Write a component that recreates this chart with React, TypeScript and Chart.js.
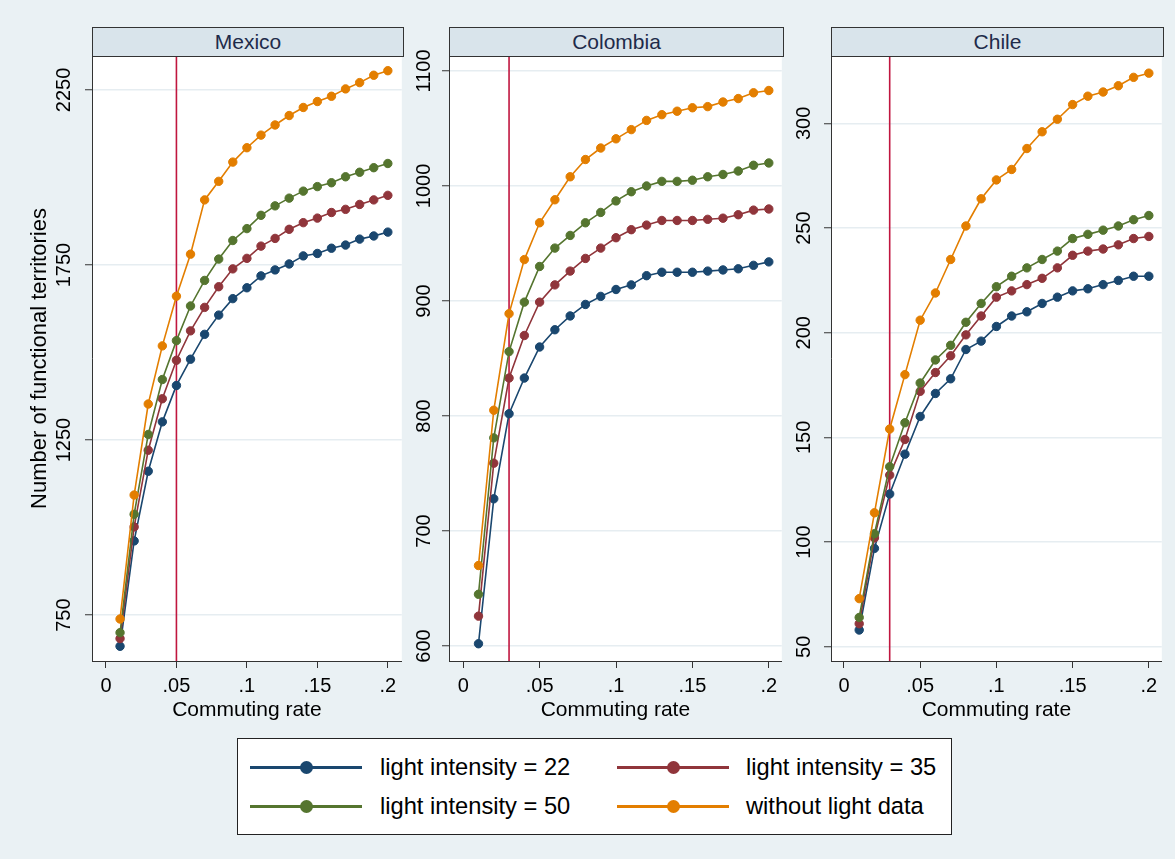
import React, { useEffect, useRef } from "react";
import { Chart, registerables } from "chart.js";

Chart.register(...registerables);

// ---------------- DATA ----------------
const commutingRates = [0.01, 0.02, 0.03, 0.04, 0.05, 0.06, 0.07, 0.08, 0.09, 0.1, 0.11, 0.12, 0.13, 0.14, 0.15, 0.16, 0.17, 0.18, 0.19, 0.2];

const seriesLabels = ["light intensity = 22", "light intensity = 35", "light intensity = 50", "without light data"];

const mexico22 = [661, 962, 1161, 1302, 1406, 1481, 1552, 1607, 1654, 1685, 1719, 1736, 1753, 1776, 1783, 1798, 1807, 1824, 1833, 1844];
const mexico35 = [683, 1002, 1221, 1368, 1478, 1562, 1629, 1688, 1739, 1769, 1804, 1826, 1852, 1871, 1884, 1900, 1909, 1923, 1936, 1949];
const mexico50 = [700, 1038, 1266, 1423, 1534, 1633, 1706, 1767, 1820, 1854, 1892, 1919, 1941, 1961, 1974, 1985, 2002, 2015, 2028, 2040];
const mexicoNoLight = [739, 1093, 1353, 1519, 1661, 1781, 1936, 1989, 2044, 2085, 2121, 2150, 2177, 2200, 2217, 2232, 2253, 2271, 2292, 2305];

const colombia22 = [602, 728, 802, 833, 860, 875, 887, 897, 904, 910, 914, 922, 925, 925, 925, 926, 927, 928, 931, 934];
const colombia35 = [626, 759, 833, 870, 899, 914, 926, 937, 946, 955, 962, 966, 970, 970, 970, 971, 972, 975, 979, 980];
const colombia50 = [645, 781, 856, 899, 930, 946, 957, 968, 977, 987, 995, 1000, 1004, 1004, 1005, 1008, 1010, 1013, 1018, 1020];
const colombiaNoLight = [670, 805, 889, 936, 968, 988, 1008, 1023, 1033, 1041, 1049, 1057, 1062, 1065, 1068, 1069, 1073, 1076, 1081, 1083];

const chile22 = [58, 97, 123, 142, 160, 171, 178, 192, 196, 203, 208, 210, 214, 217, 220, 221, 223, 225, 227, 227];
const chile35 = [61, 102, 132, 149, 172, 181, 189, 199, 208, 217, 220, 223, 226, 231, 237, 239, 240, 242, 245, 246];
const chile50 = [64, 104, 136, 157, 176, 187, 194, 205, 214, 222, 227, 231, 235, 239, 245, 247, 249, 251, 254, 256];
const chileNoLight = [73, 114, 154, 180, 206, 219, 235, 251, 264, 273, 278, 288, 296, 302, 309, 313, 315, 318, 322, 324];

const xTickValues = [0, 0.05, 0.1, 0.15, 0.2];
const xTickLabels = ["0", ".05", ".1", ".15", ".2"];
const mexicoYTicks = [750, 1250, 1750, 2250];
const colombiaYTicks = [600, 700, 800, 900, 1000, 1100];
const chileYTicks = [50, 100, 150, 200, 250, 300];

const mexicoThreshold = 0.05;
const colombiaThreshold = 0.03;
const chileThreshold = 0.03;

const xAxisTitle = "Commuting rate";
const yAxisTitle = "Number of functional territories";

// ---------------- STYLE ----------------
const FONT = "'Liberation Sans', Arial, Helvetica, sans-serif";
const seriesColors = ["#1A476F", "#90353B", "#55752F", "#E37E00"];
const seriesOrder = [3, 2, 1, 0];
const refLineColor = "#C0163F";
const outerBg = "#EAF1F4";
const headerBg = "#D9E4EB";
const axisColor = "#333333";
const gridColor = "#E6EDF1";

if (typeof document !== "undefined") {
  document.body.style.margin = "0";
  document.body.style.background = outerBg;
}

type PanelSpec = {
  name: string;
  series: number[][];
  yTicks: number[];
  yMin: number;
  yMax: number;
  xMin: number;
  xMax: number;
  threshold: number;
  plotLeft: number;
  plotRight: number;
  yAxisWidth: number;
  labelOffset: number;
  showYTitle: boolean;
};

const PLOT_TOP = 56;
const PLOT_BOTTOM = 661;
const CANVAS_TOP = 50;
const CANVAS_BOTTOM = 730;
const TICK_LEN = 7;
const TICK_FONT = 20;

const panels: PanelSpec[] = [
  {
    name: "Mexico",
    series: [mexico22, mexico35, mexico50, mexicoNoLight],
    yTicks: mexicoYTicks,
    yMin: 619,
    yMax: 2347,
    xMin: -0.0099,
    xMax: 0.2099,
    threshold: mexicoThreshold,
    plotLeft: 92,
    plotRight: 403,
    yAxisWidth: 92,
    labelOffset: 28,
    showYTitle: true,
  },
  {
    name: "Colombia",
    series: [colombia22, colombia35, colombia50, colombiaNoLight],
    yTicks: colombiaYTicks,
    yMin: 587,
    yMax: 1113,
    xMin: -0.0093,
    xMax: 0.2085,
    threshold: colombiaThreshold,
    plotLeft: 449,
    plotRight: 783,
    yAxisWidth: 46,
    labelOffset: 25,
    showYTitle: false,
  },
  {
    name: "Chile",
    series: [chile22, chile35, chile50, chileNoLight],
    yTicks: chileYTicks,
    yMin: 43.2,
    yMax: 332.2,
    xMin: -0.0085,
    xMax: 0.2085,
    threshold: chileThreshold,
    plotLeft: 831,
    plotRight: 1163,
    yAxisWidth: 41,
    labelOffset: 27,
    showYTitle: false,
  },
];

const plotBgPlugin = {
  id: "plotBg",
  beforeDraw(chart: any) {
    const { ctx, chartArea } = chart;
    ctx.save();
    ctx.fillStyle = "#FFFFFF";
    ctx.fillRect(chartArea.left, chartArea.top, chartArea.right - chartArea.left, chartArea.bottom - chartArea.top);
    ctx.restore();
  },
};

function Panel({ spec }: { spec: PanelSpec }) {
  const ref = useRef<HTMLCanvasElement | null>(null);
  const rightPad = 4;
  const canvasLeft = spec.plotLeft - spec.yAxisWidth;
  const canvasWidth = spec.yAxisWidth + (spec.plotRight - spec.plotLeft) + rightPad;
  const canvasHeight = CANVAS_BOTTOM - CANVAS_TOP;

  useEffect(() => {
    if (!ref.current) return;
    const widestDigits = Math.max(...spec.yTicks.map((t) => String(t).length));
    const widest = widestDigits * 0.556 * TICK_FONT;
    const yPad = spec.labelOffset - TICK_LEN - widest / 2;

    const datasets: any[] = spec.series.map((vals, i) => ({
      label: seriesLabels[i],
      data: commutingRates.map((x, j) => ({ x, y: vals[j] })),
      borderColor: seriesColors[i],
      backgroundColor: seriesColors[i],
      pointBackgroundColor: seriesColors[i],
      pointBorderColor: seriesColors[i],
      borderWidth: 1.6,
      pointRadius: 4.2,
      pointBorderWidth: 1,
      tension: 0,
      fill: false,
      order: seriesOrder[i],
    }));
    datasets.push({
      label: "threshold",
      data: [
        { x: spec.threshold, y: spec.yMin },
        { x: spec.threshold, y: spec.yMax },
      ],
      borderColor: refLineColor,
      borderWidth: 1.6,
      pointRadius: 0,
      fill: false,
      order: 10,
    });

    const chart = new Chart(ref.current, {
      type: "line",
      data: { datasets },
      plugins: [plotBgPlugin],
      options: {
        animation: false,
        responsive: false,
        maintainAspectRatio: false,
        layout: { padding: { left: 0, right: rightPad, top: PLOT_TOP - CANVAS_TOP, bottom: 0 } },
        plugins: { legend: { display: false }, tooltip: { enabled: false } },
        scales: {
          x: {
            type: "linear",
            min: spec.xMin,
            max: spec.xMax,
            afterBuildTicks: (s: any) => {
              s.ticks = xTickValues.map((v) => ({ value: v }));
            },
            afterFit: (s: any) => {
              s.height = CANVAS_BOTTOM - PLOT_BOTTOM;
              s.paddingLeft = 0;
              s.paddingRight = 0;
              s.paddingTop = 0;
              s.paddingBottom = 0;
            },
            ticks: {
              autoSkip: false,
              maxRotation: 0,
              minRotation: 0,
              padding: 6,
              color: "#000",
              font: { family: FONT, size: TICK_FONT },
              callback: (_v: any, i: number) => xTickLabels[i],
            },
            grid: {
              drawOnChartArea: false,
              drawTicks: true,
              tickLength: TICK_LEN,
              tickColor: axisColor,
              tickWidth: 1,
            },
            border: { display: true, color: axisColor, width: 1 },
            title: {
              display: true,
              text: xAxisTitle,
              color: "#000",
              font: { family: FONT, size: 21 },
              padding: { top: 0, bottom: 7 },
            },
          },
          y: {
            type: "linear",
            min: spec.yMin,
            max: spec.yMax,
            afterBuildTicks: (s: any) => {
              s.ticks = spec.yTicks.map((v) => ({ value: v }));
            },
            afterFit: (s: any) => {
              s.width = spec.yAxisWidth;
              s.paddingTop = 0;
              s.paddingBottom = 0;
              s.paddingLeft = 0;
              s.paddingRight = 0;
            },
            ticks: {
              autoSkip: false,
              minRotation: 90,
              maxRotation: 90,
              crossAlign: "center",
              padding: yPad,
              color: "#000",
              font: { family: FONT, size: TICK_FONT },
              callback: (v: any) => String(v),
            },
            grid: {
              color: gridColor,
              lineWidth: 1.5,
              drawTicks: true,
              tickLength: TICK_LEN,
              tickColor: axisColor,
              tickWidth: 1,
            },
            border: { display: true, color: axisColor, width: 1 },
            title: {
              display: spec.showYTitle,
              text: yAxisTitle,
              color: "#000",
              font: { family: FONT, size: 22 },
              padding: { top: 27, bottom: 0 },
            },
          },
        },
      } as any,
    });
    return () => chart.destroy();
  }, []);

  return (
    <>
      <canvas
        ref={ref}
        width={canvasWidth}
        height={canvasHeight}
        style={{ position: "absolute", left: canvasLeft, top: CANVAS_TOP, width: canvasWidth, height: canvasHeight }}
      />
      <div
        style={{
          position: "absolute",
          left: spec.plotLeft,
          top: 27,
          width: spec.plotRight - spec.plotLeft + 1,
          height: 30,
          boxSizing: "border-box",
          border: `1px solid ${axisColor}`,
          background: headerBg,
          color: "#1E2B4A",
          fontFamily: FONT,
          fontSize: 21,
          lineHeight: "28px",
          textAlign: "center",
        }}
      >
        {spec.name}
      </div>
    </>
  );
}

function Legend() {
  const boxLeft = 237;
  const boxTop = 738;
  const lineLefts = [250, 617];
  const textLefts = [380, 746];
  const rowYs = [767, 806];
  return (
    <div
      style={{
        position: "absolute",
        left: boxLeft,
        top: boxTop,
        width: 715,
        height: 97,
        boxSizing: "border-box",
        border: "1px solid #222",
        background: "#FFFFFF",
      }}
    >
      {seriesLabels.map((label, i) => {
        const col = i % 2;
        const row = Math.floor(i / 2);
        const y = rowYs[row] - boxTop - 1;
        const lx = lineLefts[col] - boxLeft - 1;
        return (
          <React.Fragment key={label}>
            <div style={{ position: "absolute", left: lx, top: y - 1.5, width: 112, height: 3, background: seriesColors[i] }} />
            <div
              style={{
                position: "absolute",
                left: lx + 56 - 6.5,
                top: y - 6.5,
                width: 13,
                height: 13,
                borderRadius: "50%",
                background: seriesColors[i],
              }}
            />
            <div
              style={{
                position: "absolute",
                left: textLefts[col] - boxLeft - 1,
                top: y - 14,
                height: 28,
                lineHeight: "28px",
                fontFamily: FONT,
                fontSize: 23.7,
                color: "#000",
                whiteSpace: "nowrap",
              }}
            >
              {label}
            </div>
          </React.Fragment>
        );
      })}
    </div>
  );
}

export default function App() {
  return (
    <div style={{ position: "relative", width: 1175, height: 859, background: outerBg, overflow: "hidden" }}>
      {panels.map((p) => (
        <Panel key={p.name} spec={p} />
      ))}
      <Legend />
    </div>
  );
}
